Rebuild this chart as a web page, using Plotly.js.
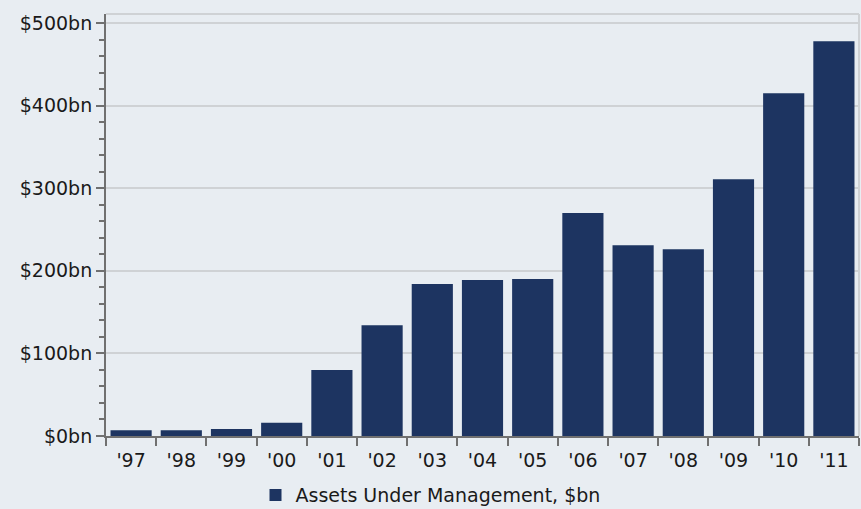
<!DOCTYPE html>
<html><head><meta charset="utf-8">
<script src="https://cdn.plot.ly/plotly-3.0.1.min.js"></script>
<style>body{margin:0;background:#e8edf2}#c{width:861px;height:509px}</style>
</head><body><div id="c"></div>
<script>
const years = ["'97","'98","'99","'00","'01","'02","'03","'04","'05","'06","'07","'08","'09","'10","'11"];
const aum = [7, 7, 8.5, 16, 80, 134, 184, 189, 190, 270, 231, 226, 311, 415, 478];
const yTicks = [0, 100, 200, 300, 400, 500];
const yTickText = ["$0bn", "$100bn", "$200bn", "$300bn", "$400bn", "$500bn"];
const seriesName = "Assets Under Management, $bn";

function f(s) { return {family: "DejaVu Sans", size: s, color: "#1a1a1a"}; }
Plotly.newPlot("c", [{
  type: "bar", x: years, y: aum, name: seriesName,
  marker: {color: "#1d3461"}, showlegend: true
}], {
  width: 861, height: 509,
  paper_bgcolor: "#e8edf2", plot_bgcolor: "#e8edf2",
  margin: {l: 106, r: 2, t: 14, b: 73, autoexpand: false},
  font: f(19),
  bargap: 0.18,
  xaxis: {
    type: "category", showline: true, linecolor: "#707070", linewidth: 2,
    ticks: "outside", ticklen: 8, tickcolor: "#707070", tickwidth: 2,
    tickson: "boundaries", showgrid: false, tickfont: f(19), automargin: false,
    ticklabelstandoff: 6
  },
  yaxis: {
    range: [0, 511], tickvals: yTicks, ticktext: yTickText,
    showline: true, linecolor: "#707070", linewidth: 2,
    ticks: "outside", ticklen: 8, tickcolor: "#707070", tickwidth: 2,
    minor: {dtick: 20, ticks: "outside", ticklen: 5, tickcolor: "#707070", tickwidth: 2, showgrid: false},
    showgrid: true, gridcolor: "#cfd2d5", gridwidth: 2, zeroline: false, tickfont: f(19), automargin: false
  },
  shapes: [
    {type: "line", xref: "paper", yref: "paper", x0: 0, x1: 1, y0: 1, y1: 1, line: {color: "#cfd2d5", width: 2}},
    {type: "line", xref: "paper", yref: "paper", x0: 1, x1: 1, y0: 0, y1: 1, line: {color: "#cfd2d5", width: 2}}
  ],
  legend: {orientation: "h", xref: "container", x: 0.5, xanchor: "center", y: -0.095, yanchor: "top", font: f(19), bgcolor: "rgba(0,0,0,0)"}
}, {displayModeBar: false});
</script></body></html>
